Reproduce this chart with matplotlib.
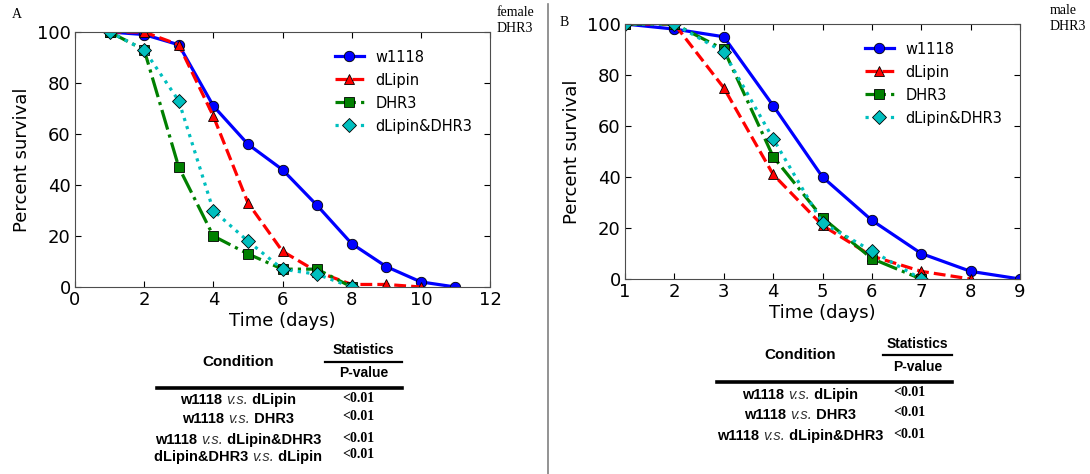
import matplotlib
matplotlib.use("Agg")
import matplotlib.pyplot as plt

W, H = 1090, 474

# panel A (female)
days_a = [1, 2, 3, 4, 5, 6, 7, 8, 9, 10, 11]
w1118_a = [100, 99, 95, 71, 56, 46, 32, 17, 8, 2, 0]
dlipin_a = [100, 100, 95, 67, 33, 14, 6, 1, 1, 0]
dhr3_a = [100, 93, 47, 20, 13, 7, 7, 0]
both_a = [100, 93, 73, 30, 18, 7, 5, 0]

# panel B (male)
days_b = [1, 2, 3, 4, 5, 6, 7, 8, 9]
w1118_b = [100, 98, 95, 68, 40, 23, 10, 3, 0]
dlipin_b = [100, 100, 75, 41, 21, 9, 3, 0]
dhr3_b = [100, 100, 90, 48, 24, 8, 0]
both_b = [100, 100, 89, 55, 22, 11, 0]

labels = ["w1118", "dLipin", "DHR3", "dLipin&DHR3"]
conds_a = [("w1118", "dLipin"), ("w1118", "DHR3"),
           ("w1118", "dLipin&DHR3"), ("dLipin&DHR3", "dLipin")]
pvals_a = ["<0.01", "<0.01", "<0.01", "<0.01"]
conds_b = [("w1118", "dLipin"), ("w1118", "DHR3"), ("w1118", "dLipin&DHR3")]
pvals_b = ["<0.01", "<0.01", "<0.01"]

styles = [dict(color="b", ls="-", marker="o"),
          dict(color="r", ls="--", marker="^"),
          dict(color="g", ls="-.", marker="s"),
          dict(color="c", ls=":", marker="D")]

serif = "Liberation Serif"
sans = "Liberation Sans"

fig = plt.figure(figsize=(W / 100, H / 100), dpi=100)


def px_axes(x0, y0, x1, y1):
    return fig.add_axes([x0 / W, 1 - y1 / H, (x1 - x0) / W, (y1 - y0) / H])


def ftext(x, y, s, **kw):
    return fig.text(x / W, 1 - y / H, s, **kw)


def survival(ax, days, series, xlim, xticks):
    for s, lab, st in zip(series, labels, styles):
        ax.plot(days[:len(s)], s, label=lab, lw=2.3, ms=7.5, mec="k", mew=0.6,
                **st)
    ax.set_xlim(*xlim)
    ax.set_ylim(0, 100)
    ax.set_xticks(xticks)
    ax.set_yticks([0, 20, 40, 60, 80, 100])
    ax.tick_params(direction="in", length=4, labelsize=13, top=True, right=True,
                   pad=3)
    for sp in ax.spines.values():
        sp.set_color("0.3")
    ax.set_xlabel("Time (days)", fontsize=13, labelpad=2)
    ax.set_ylabel("Percent survival", fontsize=13)
    ax.legend(loc="upper right", frameon=False, fontsize=10.5, handlelength=2.0,
              handletextpad=0.8, borderaxespad=0.8, labelspacing=0.55)


ax_a = px_axes(75, 32, 490, 287)
survival(ax_a, days_a, [w1118_a, dlipin_a, dhr3_a, both_a], (0, 12),
         range(0, 13, 2))
ax_b = px_axes(625, 24, 1020, 279)
survival(ax_b, days_b, [w1118_b, dlipin_b, dhr3_b, both_b], (1, 9),
         range(1, 10))

ftext(12, 14, "A", family=serif, fontsize=10, va="center")
ftext(560, 22, "B", family=serif, fontsize=10, va="center")
ftext(497, 6, "female\nDHR3", family=serif, fontsize=10, va="top",
      linespacing=1.25)
ftext(1050, 4, "male\nDHR3", family=serif, fontsize=10, va="top",
      linespacing=1.25)

fig.add_artist(plt.Line2D([548 / W, 548 / W], [0, 1 - 4 / H], color="0.5",
                          lw=1.2))


def hline(x0, x1, y, lw):
    fig.add_artist(plt.Line2D([x0 / W, x1 / W], [1 - y / H, 1 - y / H],
                              color="k", lw=lw))


def table(left, cx, y_cond, y_stat, y_pv, x_line0, x_line1, y_thin, y_thick,
          x_p, rows_y, conds, pvals):
    ftext(cx, y_cond, "Condition", family=sans, weight="bold", fontsize=11,
          ha="center", va="center")
    sx = (x_line0 + x_line1) / 2
    ftext(sx, y_stat, "Statistics", family=sans, weight="bold", fontsize=10,
          ha="center", va="center")
    ftext(sx, y_pv, "P-value", family=sans, weight="bold", fontsize=10,
          ha="center", va="center")
    hline(x_line0, x_line1, y_thin, 1.6)
    hline(left, x_line1, y_thick, 2.6)
    r = fig.canvas.get_renderer()
    for y, (a, b), p in zip(rows_y, conds, pvals):
        parts = [(a + " ", "normal", "bold"), ("v.s.", "italic", "normal"),
                 (" " + b, "normal", "bold")]
        widths = []
        for s, style, weight in parts:
            tt = fig.text(0, 0, s, family=sans, style=style, weight=weight,
                          fontsize=10.5)
            widths.append(tt.get_window_extent(r).width)
            tt.remove()
        x = cx - sum(widths) / 2
        for (s, style, weight), w in zip(parts, widths):
            ftext(x, y, s, family=sans, style=style, weight=weight,
                  fontsize=10.5, va="center",
                  color="0.2" if style == "italic" else "k")
            x += w
        ftext(x_p, y - 2, p, family=serif, weight="bold", fontsize=10,
              va="center")


table(157, 238, 362, 350, 373, 325, 402, 362, 388, 342, [400, 419, 440, 457],
      conds_a, pvals_a)
table(717, 800, 355, 344, 367, 883, 952, 355, 382, 893, [395, 415, 436],
      conds_b, pvals_b)

fig.savefig("out.png", dpi=100)
